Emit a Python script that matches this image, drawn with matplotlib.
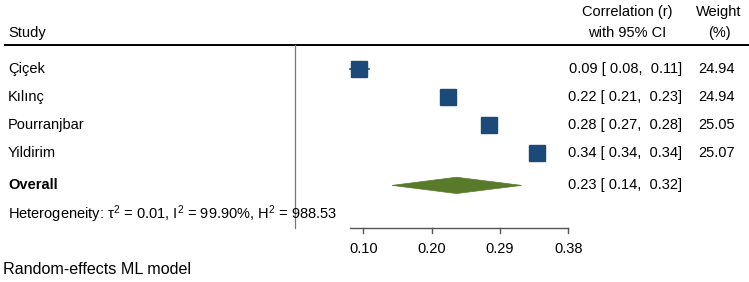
import numpy as np
import matplotlib
matplotlib.use('Agg')
import matplotlib.pyplot as plt
from matplotlib.patches import Polygon
import matplotlib.transforms as mtransforms

plt.rcParams['font.family'] = ['Liberation Sans', 'DejaVu Sans']
plt.rcParams['mathtext.fontset'] = 'custom'
plt.rcParams['mathtext.rm'] = 'Liberation Sans'
plt.rcParams['mathtext.it'] = 'Liberation Sans'

# data
studies = ['Çiçek', 'Kılınç', 'Pourranjbar', 'Yildirim']
r_est = [0.094, 0.220, 0.276, 0.340]
r_lo = [0.080, 0.210, 0.271, 0.337]
r_hi = [0.108, 0.230, 0.280, 0.343]
weights = [24.94, 24.94, 25.05, 25.07]
overall = [0.232, 0.141, 0.320]   # estimate, lower, upper
tau2, I2, H2 = 0.01, 99.90, 988.53
z_ticks = [0.1, 0.2, 0.3, 0.4]    # Fisher z scale

blue = '#1c4a78'
green = '#587a2a'
fs = 10.5

fig = plt.figure(figsize=(7.49, 2.82), dpi=100)
ax = fig.add_axes([0, 0, 1, 1])
ax.set_xlim(-0.4321, 0.6646)
ax.set_ylim(7.598, -2.438)
ax.axis('off')
tr = mtransforms.blended_transform_factory(ax.transAxes, ax.transData)

z = np.arctanh(r_est)
zlo = np.arctanh(r_lo)
zhi = np.arctanh(r_hi)
rows = np.arange(len(studies))

# header
ax.text(8/749, -1.26, 'Study', transform=tr, ha='left', va='center', fontsize=fs)
ax.text(627/749, -2.01, 'Correlation (r)', transform=tr, ha='center', va='center', fontsize=fs)
ax.text(627/749, -1.26, 'with 95% CI', transform=tr, ha='center', va='center', fontsize=fs)
ax.text(719/749, -2.01, 'Weight', transform=tr, ha='center', va='center', fontsize=fs)
ax.text(719/749, -1.26, '(%)', transform=tr, ha='center', va='center', fontsize=fs)
ax.plot([5/749, 1], [-0.836, -0.836], transform=tr, color='black', lw=1.4)

# no-effect line
ax.plot([0, 0], [-0.836, 5.68], color='#777777', lw=0.9)

# studies
for i in rows:
    ax.plot([zlo[i], zhi[i]], [i, i], color=blue, lw=1.2)
    ax.plot(z[i], i, marker='s', ms=2.3*np.sqrt(weights[i]), color=blue, mec=blue)
    ax.text(8/749, i, studies[i], transform=tr, ha='left', va='center', fontsize=fs)
    ax.text(682/749, i, '%.2f [ %.2f,  %.2f]' % (r_est[i], r_lo[i], r_hi[i]),
            transform=tr, ha='right', va='center', fontsize=fs)
    ax.text(735/749, i, '%.2f' % weights[i], transform=tr, ha='right', va='center', fontsize=fs)

# overall
yo = 4.16
zo = np.arctanh(overall)
h = 0.29
ax.add_patch(Polygon([[zo[1], yo], [zo[0], yo - h], [zo[2], yo], [zo[0], yo + h]],
                     closed=True, facecolor=green, edgecolor=green, lw=0.5))
ax.text(8/749, yo, 'Overall', transform=tr, ha='left', va='center', fontsize=fs, fontweight='bold')
ax.text(682/749, yo, '%.2f [ %.2f,  %.2f]' % tuple(overall),
        transform=tr, ha='right', va='center', fontsize=fs)

ax.text(8/749, 5.18, 'Heterogeneity: $\\tau^2$ = %.2f, I$^2$ = %.2f%%, H$^2$ = %.2f' % (tau2, I2, H2),
        transform=tr, ha='left', va='center', fontsize=fs)

# x axis
ya = 5.68
ax.plot([min(zlo.min(), z_ticks[0]), max(zhi.max(), z_ticks[-1])], [ya, ya], color='#555555', lw=1.0)
for t in z_ticks:
    ax.plot([t, t], [ya, ya + 0.17], color='#555555', lw=1.0)
    ax.text(t, 6.42, '%.2f' % np.tanh(t), ha='center', va='center', fontsize=fs)

ax.text(3/749, 7.17, 'Random-effects ML model', transform=tr, ha='left', va='center', fontsize=11.6)

fig.savefig('out.png', dpi=100)
